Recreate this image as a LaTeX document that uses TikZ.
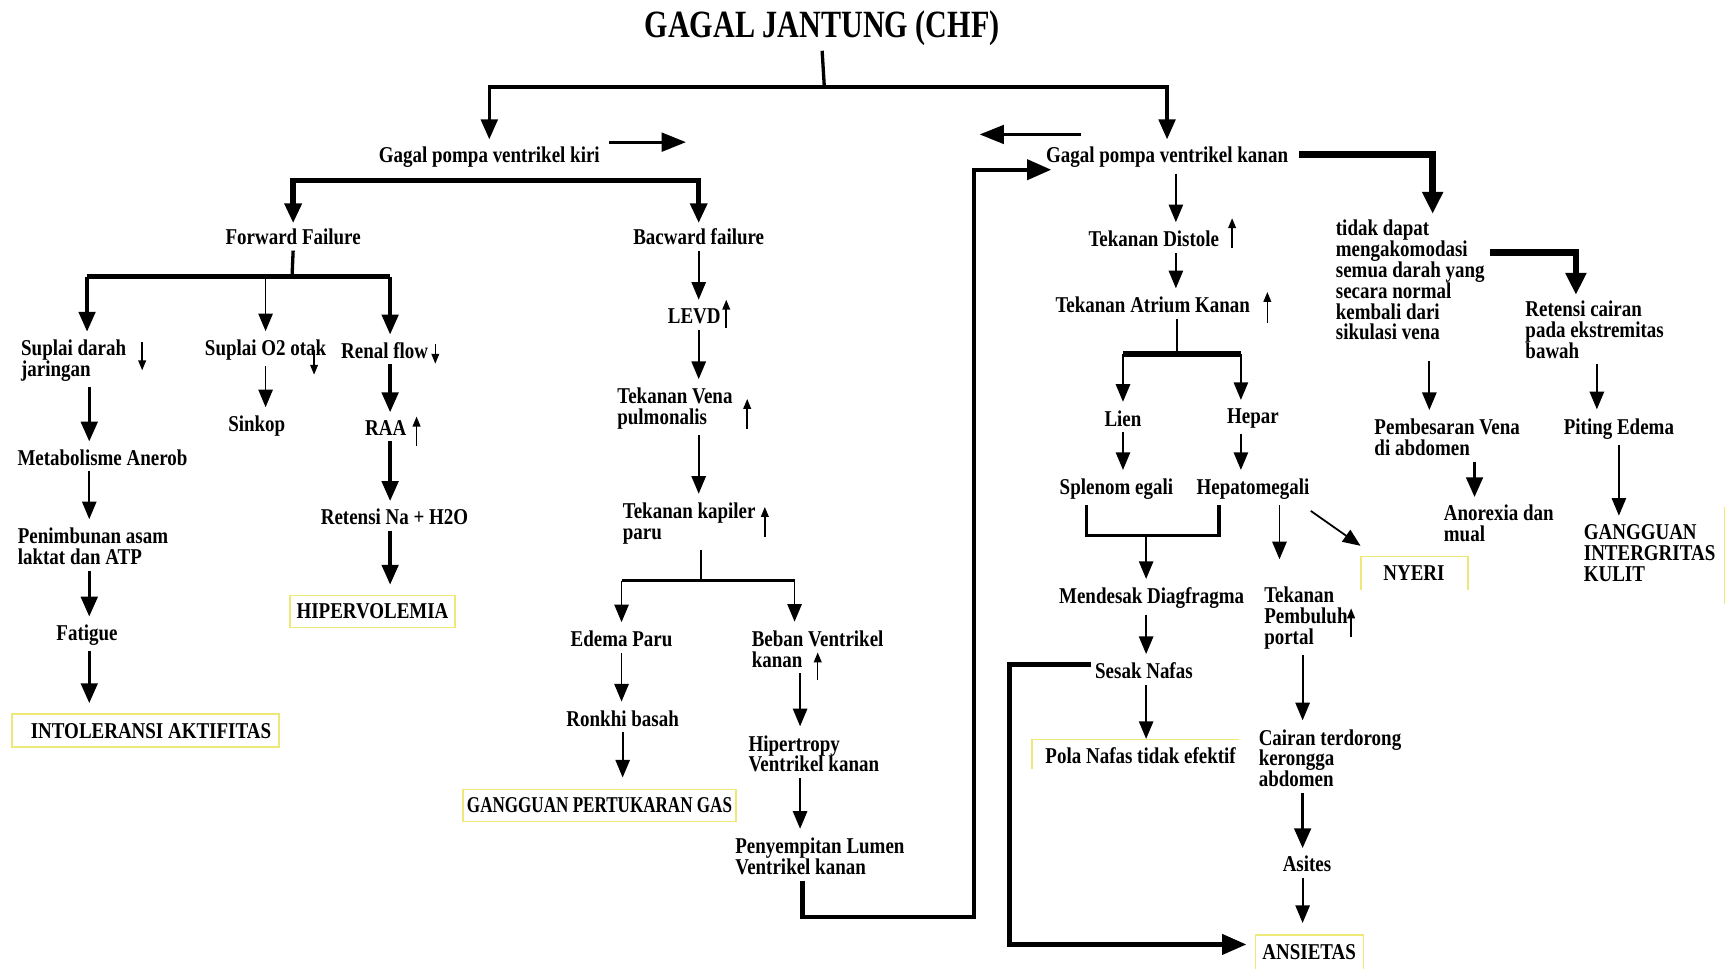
\documentclass[tikz,border=0pt]{standalone}
\usepackage{fontspec}
\setmainfont{Liberation Serif}[FakeStretch=0.84]
\usepackage{graphicx}
\usetikzlibrary{calc,arrows.meta}
\definecolor{boxline}{RGB}{238,232,120}
\tikzset{
  txt/.style={font=\bfseries\fontsize{20.5}{19}\selectfont, inner xsep=0pt, inner ysep=5pt, align=left},
  diag/.style={txt, draw=boxline, line width=1.3pt, inner ysep=0pt, outer sep=8pt},
  partbox/.style={draw=boxline, line width=1.3pt},
  arr/.style={line width=1.6pt, shorten >=3pt, -{Triangle[length=16pt,width=13pt]}},
  bigarr/.style={line width=3pt, shorten >=2pt, -{Triangle[length=18pt,width=15pt]}},
  fatarr/.style={line width=2.5pt, -{Triangle[length=22pt,width=17pt]}},
  hugearr/.style={line width=6pt, -{Triangle[length=20pt,width=18pt]}},
  loopline/.style={line width=4pt, -{Triangle[length=22pt,width=18pt]}},
  bar/.style={line width=5pt},
  midbar/.style={line width=3pt},
  stem/.style={line width=1.6pt},
  ind/.style={line width=1.4pt, -{Triangle[length=9pt,width=7pt]}},
}

\begin{document}
\begin{tikzpicture}[x=1pt,y=-1pt]
\fill[white] (0,0) rectangle (1568,879);
\useasboundingbox (0,0) rectangle (1568,879);

\node[font=\bfseries\fontsize{35}{40}\selectfont, inner sep=4pt] (title) at (746,26) {\scalebox{0.93}[1]{GAGAL JANTUNG (CHF)}};
\node[txt] (gpkiri) at (444,143) {Gagal pompa ventrikel kiri};
\node[txt] (gpkanan) at (1059,143) {Gagal pompa ventrikel kanan};

\node[txt] (forward) at (266,215) {Forward Failure};
\node[txt] (backward) at (634,215) {Bacward failure};
\node[txt,anchor=west] (suplai) at (19,327) {Suplai darah\\jaringan};
\node[txt] (otak) at (241,318) {Suplai O2 otak};
\node[txt] (renal) at (349,318) {Renal flow};
\node[txt] (anerob) at (93,415) {Metabolisme Anerob};
\node[txt,anchor=west] (laktat) at (16,496) {Penimbunan asam\\laktat dan ATP};
\node[txt] (fatigue) at (79,576) {Fatigue};
\node[diag,minimum width=242pt,minimum height=30pt] (intol) at (132,663) {\hspace{10pt}INTOLERANSI AKTIFITAS};
\node[txt] (sinkop) at (233,387) {Sinkop};
\node[txt] (raa) at (350,388) {RAA};
\node[txt] (natrium) at (358,469) {Retensi Na + H2O};
\node[diag,minimum width=150pt,minimum height=29pt] (hiper) at (338,555) {HIPERVOLEMIA};

\node[txt] (levd) at (630,287) {LEVD};
\node[txt,anchor=west] (vena) at (560,371) {Tekanan Vena\\pulmonalis};
\node[txt,anchor=west] (kapiler) at (565,475) {Tekanan kapiler\\paru};
\node[txt] (edema) at (564,580) {Edema Paru};
\node[txt,anchor=west] (beban) at (682,589) {Beban Ventrikel\\kanan};
\node[txt] (ronkhi) at (565,652) {Ronkhi basah};
\node[diag,minimum width=248pt,minimum height=29pt] (gas) at (544,731) {\scalebox{0.9}[1]{GANGGUAN PERTUKARAN GAS}};
\node[txt,anchor=west] (hipertropi) at (679,684) {Hipertropy\\Ventrikel kanan};
\node[txt,anchor=west] (lumen) at (667,777) {Penyempitan Lumen\\Ventrikel kanan};

\node[txt] (distole) at (1047,217) {Tekanan Distole};
\node[txt] (atrium) at (1046,277) {Tekanan Atrium Kanan};
\node[txt] (lien) at (1019,380) {Lien};
\node[txt] (hepar) at (1137,380) {Hepar};
\node[txt] (splenom) at (1013,444) {Splenom egali};
\node[txt] (hepato) at (1137,444) {Hepatomegali};
\node[txt] (diafragma) at (1045,543) {Mendesak Diagfragma};
\node[txt] (sesak) at (1038,609) {Sesak Nafas};
\node[txt] (pola) at (1035,686) {Pola Nafas tidak efektif};
\node[txt,anchor=west] (portal) at (1147,561) {Tekanan\\Pembuluh\\portal};
\node[txt,anchor=west] (cairan) at (1142,688) {Cairan terdorong\\kerongga\\abdomen};
\node[txt] (asites) at (1186,784) {Asites};
\node[diag,minimum width=98pt,minimum height=31pt] (ansietas) at (1188,864) {ANSIETAS};

\node[txt,anchor=west] (tidak) at (1212,254) {tidak dapat\\mengakomodasi\\semua darah yang\\secara normal\\kembali dari\\sikulasi vena};
\node[txt,anchor=west] (cairbawah) at (1384,299) {Retensi cairan\\pada ekstremitas\\bawah};
\node[txt,anchor=west] (venaabd) at (1247,397) {Pembesaran Vena\\di abdomen};
\node[txt] (piting) at (1469,389) {Piting Edema};
\node[txt,anchor=west] (anorexia) at (1310,475) {Anorexia dan\\mual};
\node[txt] (nyeri) at (1283,520) {NYERI};
\node[txt,anchor=west] (kulit) at (1437,502) {GANGGUAN\\INTERGRITAS\\KULIT};

\draw[partbox] ($(pola.west)+(-12,12)$) |- ($(pola.east)+(3,-15)$);
\draw[partbox] ($(nyeri)+(-48,15)$) |- ($(nyeri)+(49,-15)$) -- ++(0,30);
\draw[partbox] ($(kulit.east)+(8,-42)$) -- ++(0,88);

\coordinate (root) at (748,79);
\draw[midbar] (title.south) -- (root);
\draw[bigarr] (root) -| (gpkiri.north);
\draw[bigarr] (root) -| (gpkanan.north);
\draw[fatarr] ($(gpkiri.east)+(8,-14)$) -- ++(70,0);
\draw[fatarr] ($(gpkanan.west)+(32,-21)$) -- ++(-92,0);

\coordinate (kiri) at (444,164);
\draw[bar,-{Triangle[length=18pt,width=15pt]}] (kiri) -| (forward.north);
\draw[bar,-{Triangle[length=18pt,width=15pt]}] (kiri) -| (backward.north);

\coordinate (fw) at (265,251);
\coordinate (fwl) at (79,251);
\coordinate (fwr) at (354,251);
\draw[midbar] (forward.south) -- (fw);
\draw[bar] (fwl) -- (fwr);
\draw[bigarr] (fwl) -- (fwl |- suplai.north);
\draw[arr] (fw -| otak) -- (otak.north);
\draw[bigarr] (fwr) -- (fwr |- renal.north);

\coordinate (colA) at (81,0);
\draw[bigarr] (suplai.south -| colA) -- (anerob.north -| colA);
\draw[arr] (anerob.south -| colA) -- (laktat.north -| colA);
\draw[bigarr] (laktat.south -| colA) -- (fatigue.north -| colA);
\draw[bigarr] (fatigue.south -| colA) -- (intol.north -| colA);
\draw[arr] (otak.south) -- (otak.south |- sinkop.north);
\coordinate (colR) at (354,0);
\draw[bigarr] (renal.south -| colR) -- (raa.north -| colR);
\draw[bigarr] (raa.south -| colR) -- (natrium.north -| colR);
\draw[bigarr] (natrium.south -| colR) -- (hiper.north -| colR);

\coordinate (colB) at (634,0);
\draw[arr] (backward.south) -- (backward.south |- levd.north);
\draw[arr] (levd.south -| colB) -- (vena.north -| colB);
\draw[arr] (vena.south -| colB) -- (kapiler.north -| colB);
\coordinate (kap) at (636,527);
\coordinate (colC) at (721,0);
\draw[stem] (kapiler.south -| kap) -- (kap);
\draw[midbar] (kap -| edema) -- (kap -| colC);
\draw[arr] (kap -| edema) -- (edema.north);
\draw[arr] (kap -| colC) -- (beban.north -| colC);
\draw[arr] (edema.south) -- (edema.south |- ronkhi.north);
\draw[arr] (ronkhi.south) -- (ronkhi.south |- gas.north);
\coordinate (colD) at (726,0);
\draw[arr] (beban.south -| colD) -- (hipertropi.north -| colD);
\draw[arr] (hipertropi.south -| colD) -- (lumen.north -| colD);
\coordinate (lpa) at (884,832);
\draw[loopline] (lumen.south -| 728,0) |- (lpa) |- ($(gpkanan.west)+(5,11)$);

\coordinate (colE) at (1067,0);
\draw[arr] (gpkanan.south -| colE) -- (distole.north -| colE);
\draw[arr] (distole.south -| colE) -- (atrium.north -| colE);
\coordinate (atr) at (1068,321);
\coordinate (colF) at (1126,0);
\draw[stem] (atrium.south -| atr) -- (atr);
\draw[bar] (atr -| lien) -- (atr -| colF);
\draw[arr] (atr -| lien) -- (lien.north);
\draw[arr] (atr -| colF) -- (hepar.north -| colF);
\draw[arr] (lien.south) -- (lien.south |- splenom.north);
\draw[arr] (hepar.south -| colF) -- (hepato.north -| colF);
\coordinate (brl) at (986,486);
\coordinate (brr) at (1106,486);
\coordinate (colG) at (1040,0);
\draw[midbar] (splenom.south -| brl) -- (brl) -- (brr) -- (hepato.south -| brr);
\draw[arr] (brl -| colG) -- (diafragma.north -| colG);
\draw[arr] (diafragma.south -| colG) -- (sesak.north -| colG);
\draw[arr] (sesak.south -| colG) -- (pola.north -| colG);
\coordinate (lpb) at (916,857);
\draw[loopline] ($(sesak.west)+(-4,-6)$) -| (lpb) -- (lpb -| ansietas.west);

\coordinate (colH) at (1161,0);
\draw[arr,shorten >=20pt] (hepato.south -| colH) -- (portal.north -| colH);
\draw[arr] ($(hepato.south east)+(1,5)$) -- ($(nyeri)+(-46,-23)$);
\coordinate (colI) at (1182,0);
\draw[arr] (portal.south -| colI) -- (cairan.north -| colI);
\draw[bigarr] (cairan.south -| colI) -- (asites.north -| colI);
\draw[arr] (asites.south -| colI) -- (ansietas.north -| colI);

\coordinate (colT) at (1300,0);
\coordinate (colU) at (1430,0);
\draw[hugearr] ($(gpkanan.east)+(10,-3)$) -| (tidak.north -| colT);
\draw[hugearr] ($(tidak.north east)+(5,35)$) -| (cairbawah.north -| colU);
\coordinate (colV) at (1297,0);
\coordinate (colW) at (1338,0);
\coordinate (colX) at (1449,0);
\draw[arr,shorten <=14pt] (tidak.south -| colV) -- (venaabd.north -| colV);
\draw[bigarr] (venaabd.south -| colW) -- (anorexia.north -| colW);
\draw[arr] (cairbawah.south -| colX) -- (piting.north -| colX);
\draw[arr] (piting.south) -- (piting.south |- kulit.north);

\draw[ind] ($(suplai.west)+(110,-17)$) -- ++(0,26);
\draw[ind] ($(otak)+(44,0)$) -- ++(0,22);
\draw[ind] ($(renal)+(46,-6)$) -- ++(0,18);
\draw[ind] ($(raa)+(28,17)$) -- ++(0,-27);
\draw[ind] ($(levd)+(29,11)$) -- ++(0,-26);
\draw[ind] ($(vena.west)+(118,18)$) -- ++(0,-27);
\draw[ind] ($(kapiler.west)+(129,12)$) -- ++(0,-27);
\draw[ind] ($(beban.west)+(60,28)$) -- ++(0,-25);
\draw[ind] ($(distole)+(71,8)$) -- ++(0,-27);
\draw[ind] ($(atrium)+(104,16)$) -- ++(0,-28);
\draw[ind] ($(portal.west)+(79,17)$) -- ++(0,-26);

\end{tikzpicture}
\end{document}
